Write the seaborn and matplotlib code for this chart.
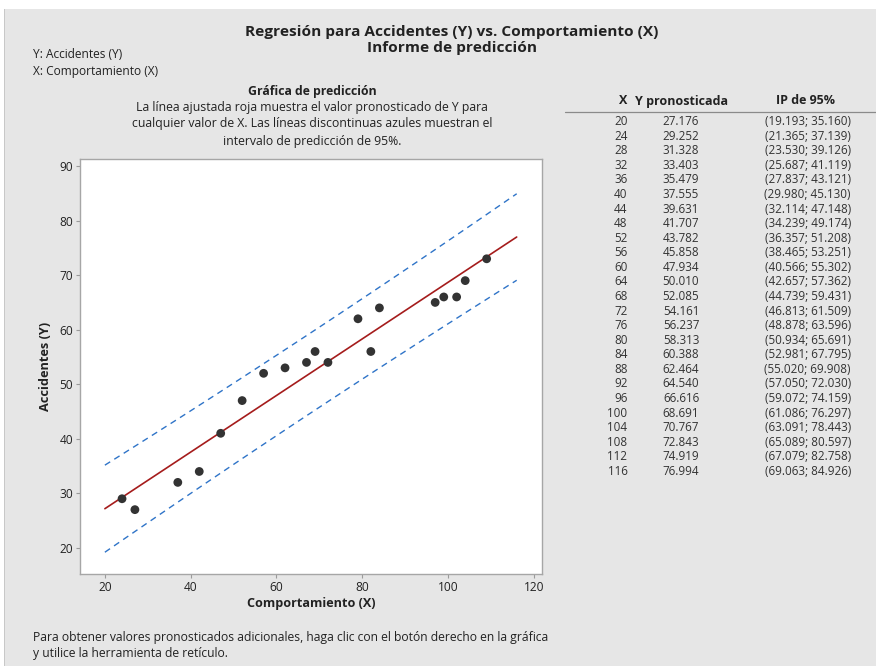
import matplotlib
matplotlib.use("Agg")
import matplotlib.pyplot as plt
import seaborn as sns
import pandas as pd
from matplotlib.patches import Rectangle
from matplotlib.lines import Line2D

# ---- data ----
obs_x = [24, 27, 37, 42, 47, 52, 57, 62, 67, 69, 72, 79, 82, 84, 97, 99, 102, 104, 109]
obs_y = [29, 27, 32, 34, 41, 47, 52, 53, 54, 56, 54, 62, 56, 64, 65, 66, 66, 69, 73]

pred_x = [20, 24, 28, 32, 36, 40, 44, 48, 52, 56, 60, 64, 68, 72, 76, 80, 84, 88, 92, 96,
          100, 104, 108, 112, 116]
pred_y = [27.176, 29.252, 31.328, 33.403, 35.479, 37.555, 39.631, 41.707, 43.782, 45.858,
          47.934, 50.010, 52.085, 54.161, 56.237, 58.313, 60.388, 62.464, 64.540, 66.616,
          68.691, 70.767, 72.843, 74.919, 76.994]
pi_low = [19.193, 21.365, 23.530, 25.687, 27.837, 29.980, 32.114, 34.239, 36.357, 38.465,
          40.566, 42.657, 44.739, 46.813, 48.878, 50.934, 52.981, 55.020, 57.050, 59.072,
          61.086, 63.091, 65.089, 67.079, 69.063]
pi_high = [35.160, 37.139, 39.126, 41.119, 43.121, 45.130, 47.148, 49.174, 51.208, 53.251,
           55.302, 57.362, 59.431, 61.509, 63.596, 65.691, 67.795, 69.908, 72.030, 74.159,
           76.297, 78.443, 80.597, 82.758, 84.926]

x_ticks = [20, 40, 60, 80, 100, 120]
y_ticks = [20, 30, 40, 50, 60, 70, 80, 90]

obs = pd.DataFrame({"x": obs_x, "y": obs_y})
pred = pd.DataFrame({"x": pred_x, "fit": pred_y, "lo": pi_low, "hi": pi_high})

sns.set_theme(style="white")
FONT = ["Open Sans", "DejaVu Sans"]
plt.rcParams["font.family"] = FONT

W, H = 876, 666
fig = plt.figure(figsize=(W / 100, H / 100), dpi=100)
fig.patch.set_facecolor("white")
BG = "#e6e6e6"
fig.patches.append(Rectangle((5 / W, 0), 1, 657 / H, transform=fig.transFigure,
                             facecolor=BG, edgecolor="none", zorder=-10))
fig.patches.append(Rectangle((4 / W, 0), 1 / W, 657 / H, transform=fig.transFigure,
                             facecolor="#c8c8c8", edgecolor="none", zorder=-9))

def fx(px):
    return px / W

def fy(py):
    return 1 - py / H

TXT = "#222222"
# Titles
fig.text(fx(452), fy(32), "Regresión para Accidentes (Y) vs. Comportamiento (X)",
         ha="center", va="center", fontsize=11.1, fontweight="bold", color=TXT)
fig.text(fx(452), fy(48), "Informe de predicción",
         ha="center", va="center", fontsize=11.1, fontweight="bold", color=TXT)
fig.text(fx(33), fy(54), "Y: Accidentes (Y)", ha="left", va="center", fontsize=8.6, color=TXT)
fig.text(fx(33), fy(72), "X: Comportamiento (X)", ha="left", va="center", fontsize=8.6, color=TXT)

fig.text(fx(312), fy(92), "Gráfica de predicción", ha="center", va="center",
         fontsize=8.8, fontweight="bold", color=TXT)
desc = ["La línea ajustada roja muestra el valor pronosticado de Y para",
        "cualquier valor de X. Las líneas discontinuas azules muestran el",
        "intervalo de predicción de 95%."]
for i, s in enumerate(desc):
    fig.text(fx(312), fy(107 + 17 * i), s, ha="center", va="center", fontsize=8.8, color=TXT)

fig.text(fx(33), fy(637), "Para obtener valores pronosticados adicionales, haga clic con el botón derecho en la gráfica",
         ha="left", va="center", fontsize=8.7, color=TXT)
fig.text(fx(33), fy(654), "y utilice la herramienta de retículo.",
         ha="left", va="center", fontsize=8.7, color=TXT)

# ---- plot ----
ax = fig.add_axes([fx(80), fy(574), (542 - 80) / W, (574 - 159) / H])
ax.set_facecolor("white")
sns.lineplot(data=pred, x="x", y="lo", ax=ax, color="#2f74c8", linewidth=1.0,
             linestyle=(0, (4.5, 3.5)), estimator=None, sort=False)
sns.lineplot(data=pred, x="x", y="hi", ax=ax, color="#2f74c8", linewidth=1.0,
             linestyle=(0, (4.5, 3.5)), estimator=None, sort=False)
sns.lineplot(data=pred, x="x", y="fit", ax=ax, color="#a51c1c", linewidth=1.2,
             estimator=None, sort=False)
sns.scatterplot(data=obs, x="x", y="y", ax=ax, color="#333333", s=40, edgecolor="none",
                zorder=5)

ax.set_xlim(14.2, 121.9)
ax.set_ylim(15.2, 91.3)
ax.set_xticks(x_ticks)
ax.set_yticks(y_ticks)
ax.tick_params(axis="both", which="both", direction="out", length=3, width=0.8,
               color="#9a9a9a", labelsize=8.6, labelcolor=TXT, pad=2, bottom=True, left=True)
for sp in ax.spines.values():
    sp.set_color("#a6a6a6")
    sp.set_linewidth(1.0)
ax.set_xlabel("Comportamiento (X)", fontsize=9.1, fontweight="bold", color=TXT, labelpad=2)
ax.set_ylabel("Accidentes (Y)", fontsize=9.2, fontweight="bold", color=TXT, labelpad=5)
ax.grid(False)

# ---- table ----
fig.text(fx(623), fy(101), "X", ha="center", va="center", fontsize=9, fontweight="bold", color=TXT)
fig.text(fx(682), fy(101), "Y pronosticada", ha="center", va="center", fontsize=9,
         fontweight="bold", color=TXT)
fig.text(fx(806), fy(101), "IP de 95%", ha="center", va="center", fontsize=9,
         fontweight="bold", color=TXT)
fig.lines.append(Line2D([fx(565), fx(876)], [fy(112), fy(112)], transform=fig.transFigure,
                        color="#8a8a8a", linewidth=0.9))
ROWC = "#333333"
for i, (xv, yv, lo, hi) in enumerate(zip(pred_x, pred_y, pi_low, pi_high)):
    yy = fy(121.7 + 14.57 * i)
    fig.text(fx(627.5), yy, f"{xv}", ha="right", va="center", fontsize=8.4, color=ROWC)
    fig.text(fx(681), yy, f"{yv:.3f}", ha="center", va="center", fontsize=8.4, color=ROWC)
    fig.text(fx(851), yy, f"({lo:.3f}; {hi:.3f})", ha="right", va="center", fontsize=8.4,
             color=ROWC)

fig.savefig("out.png", dpi=100, facecolor=fig.get_facecolor())
